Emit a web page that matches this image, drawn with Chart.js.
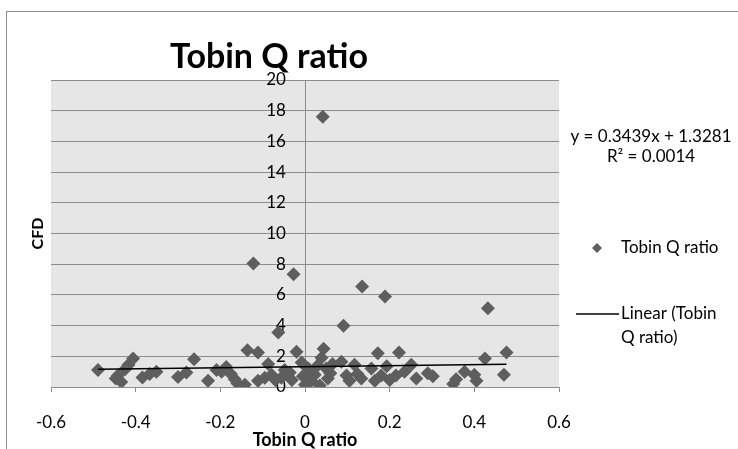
<!DOCTYPE html>
<html>
<head>
<meta charset="utf-8">
<script src="https://cdn.jsdelivr.net/npm/chart.js@4.4.1/dist/chart.umd.min.js"></script>
<style>
  html, body { margin: 0; padding: 0; background: #fff; }
  #contenedor { width: 738px; height: 449px; }
</style>
</head>
<body>
<div id="contenedor"><canvas id="graficoTobin" width="738" height="449"></canvas></div>
<script>
// valores (x = Tobin Q ratio, y = CFD)
const tobinQ = [-0.489, -0.447, -0.442, -0.434, -0.425, -0.417, -0.406, -0.384, -0.367, -0.351,
  -0.300, -0.280, -0.262, -0.229, -0.209, -0.197, -0.186, -0.175, -0.166, -0.160,
  -0.142, -0.136, -0.122, -0.111, -0.111, -0.095, -0.087, -0.079, -0.070, -0.063,
  -0.056, -0.048, -0.036, -0.031, -0.027, -0.020, -0.008, -0.005, 0.000, 0.008,
  0.015, 0.023, 0.030, 0.035, 0.039, 0.042, 0.044, 0.050, 0.054, 0.060,
  0.065, 0.086, 0.091, 0.098, 0.105, 0.117, 0.124, 0.133, 0.135, 0.157,
  0.165, 0.172, 0.180, 0.189, 0.193, 0.200, 0.215, 0.222, 0.235, 0.251,
  0.263, 0.290, 0.302, 0.350, 0.357, 0.377, 0.400, 0.405, 0.425, 0.432,
  0.470, 0.476];
const cfd = [1.10, 0.55, 0.75, 0.33, 1.15, 1.45, 1.85, 0.62, 0.85, 1.00,
  0.65, 0.95, 1.80, 0.40, 1.10, 1.00, 1.30, 0.85, 0.50, 0.25,
  0.15, 2.40, 8.05, 2.25, 0.40, 0.60, 1.50, 0.80, 0.45, 3.55,
  0.60, 1.10, 0.95, 0.45, 7.35, 2.30, 1.60, 0.70, 0.15, 1.20,
  0.40, 0.80, 1.40, 0.10, 1.90, 17.6, 2.50, 1.20, 0.55, 0.90,
  1.50, 1.65, 3.99, 0.75, 0.40, 1.45, 0.85, 0.55, 6.55, 1.20,
  0.40, 2.20, 0.75, 5.90, 1.35, 0.45, 0.75, 2.25, 1.00, 1.45,
  0.55, 0.90, 0.70, 0.20, 0.50, 1.00, 0.80, 0.40, 1.85, 5.13,
  0.80, 2.25];

// extremos de la linea de tendencia
const tendenciaX = [-0.489, 0.476];
const tendenciaY = [1.16, 1.49];

const xTicks = [-0.6, -0.4, -0.2, 0, 0.2, 0.4, 0.6];
const xTickLabels = ['-0.6', '-0.4', '-0.2', '0', '0.2', '0.4', '0.6'];
const yTicks = [0, 2, 4, 6, 8, 10, 12, 14, 16, 18, 20];
const yTickLabels = ['0', '2', '4', '6', '8', '10', '12', '14', '16', '18', '20'];

const titulo = 'Tobin Q ratio';
const tituloX = 'Tobin Q ratio';
const tituloY = 'CFD';
const ecuacion = ['y = 0.3439x + 1.3281', 'R² = 0.0014'];
const leyendaPuntos = 'Tobin Q ratio';
const leyendaLinea = ['Linear (Tobin', 'Q ratio)'];

const gris = '#8c8c8c';
const colorPunto = '#5e5e5e';
const fuente = 'Lato';

// fondo gris del area y marco exterior
const fondoPlugin = {
    id: 'fondo',
    beforeDraw(chart) {
        const { ctx, chartArea } = chart;
        ctx.save();
        ctx.strokeStyle = gris;
        ctx.lineWidth = 1;
        ctx.strokeRect(6.5, 11.5, 740, 460);
        ctx.fillStyle = '#e6e6e6';
        ctx.fillRect(chartArea.left, chartArea.top, chartArea.right - chartArea.left, chartArea.bottom - chartArea.top);
        ctx.restore();
    }
};

// titulo, ecuacion y leyenda como en Excel
const textosPlugin = {
    id: 'textos',
    afterDraw(chart) {
        const { ctx } = chart;
        ctx.save();
        ctx.fillStyle = '#000';
        ctx.textBaseline = 'alphabetic';
        ctx.textAlign = 'center';
        ctx.font = 'bold 34px ' + fuente;
        ctx.fillText(titulo, 269, 68);

        ctx.textBaseline = 'middle';
        ctx.font = '17px ' + fuente;
        ctx.fillText(ecuacion[0], 651, 137);
        ctx.fillText(ecuacion[1], 651, 157);

        // marcador rombo
        ctx.fillStyle = colorPunto;
        ctx.beginPath();
        ctx.moveTo(597, 243);
        ctx.lineTo(602, 248);
        ctx.lineTo(597, 253);
        ctx.lineTo(592, 248);
        ctx.closePath();
        ctx.fill();

        // muestra de linea
        ctx.strokeStyle = '#000';
        ctx.lineWidth = 1.5;
        ctx.beginPath();
        ctx.moveTo(576, 314);
        ctx.lineTo(619, 314);
        ctx.stroke();

        ctx.fillStyle = '#000';
        ctx.textAlign = 'left';
        ctx.fillText(leyendaPuntos, 621, 248);
        ctx.fillText(leyendaLinea[0], 621, 314);
        ctx.fillText(leyendaLinea[1], 621, 338);
        ctx.restore();
    }
};

const puntos = tobinQ.map((v, i) => ({ x: v, y: cfd[i] }));
const tendencia = tendenciaX.map((v, i) => ({ x: v, y: tendenciaY[i] }));

const ctx = document.getElementById('graficoTobin').getContext('2d');

const myChart = new Chart(ctx, {
    type: 'scatter',
    data: {
        datasets: [{
            label: leyendaLinea.join(' '),
            data: tendencia,
            showLine: true,
            borderColor: '#000',
            borderWidth: 1.5,
            pointRadius: 0,
            order: 0
        }, {
            label: leyendaPuntos,
            data: puntos,
            pointStyle: 'rectRot',
            pointRadius: 7,
            backgroundColor: colorPunto,
            borderColor: colorPunto,
            borderWidth: 0,
            order: 1
        }]
    },
    options: {
        responsive: false,
        animation: false,
        layout: {
            padding: { left: 24, right: 179, top: 80, bottom: 0 }
        },
        plugins: {
            legend: { display: false },
            tooltip: { enabled: false }
        },
        scales: {
            x: {
                type: 'linear',
                min: -0.6,
                max: 0.6,
                afterBuildTicks: s => { s.ticks = xTicks.map(v => ({ value: v })); },
                afterFit: s => { s.height = 62; },
                grid: {
                    display: true,
                    // solo la linea vertical en x = 0 (eje de valores)
                    color: c => (c.tick && c.tick.value === 0) ? gris : 'rgba(0,0,0,0)',
                    drawOnChartArea: true,
                    drawTicks: true,
                    tickLength: 5,
                    tickColor: gris
                },
                border: { display: true, color: gris, width: 1 },
                ticks: {
                    padding: 20,
                    color: '#000',
                    font: { family: fuente, size: 17 },
                    callback: v => xTickLabels[xTicks.findIndex(t => Math.abs(t - v) < 1e-9)]
                },
                title: {
                    display: true,
                    text: tituloX,
                    color: '#000',
                    padding: 0,
                    font: { family: fuente, size: 18, weight: 'bold', lineHeight: 1 }
                }
            },
            y: {
                type: 'linear',
                // etiquetas un poco a la izquierda del eje x = 0
                position: { x: -0.045 },
                min: 0,
                max: 20,
                afterBuildTicks: s => { s.ticks = yTicks.map(v => ({ value: v })); },
                afterFit: s => { s.width = 0; },
                grid: { color: gris, lineWidth: 1, drawTicks: false },
                border: { display: false },
                ticks: {
                    color: '#000',
                    font: { family: fuente, size: 17 },
                    callback: v => yTickLabels[yTicks.indexOf(v)]
                }
            },
            yTitulo: {
                type: 'linear',
                position: 'left',
                afterFit: s => { s.width = 27; },
                grid: { display: false, drawTicks: false },
                border: { display: false },
                ticks: { display: false },
                title: {
                    display: true,
                    text: tituloY,
                    color: '#000',
                    font: { family: fuente, size: 16, weight: 'bold' }
                }
            }
        }
    },
    plugins: [fondoPlugin, textosPlugin]
});
</script>
</body>
</html>
